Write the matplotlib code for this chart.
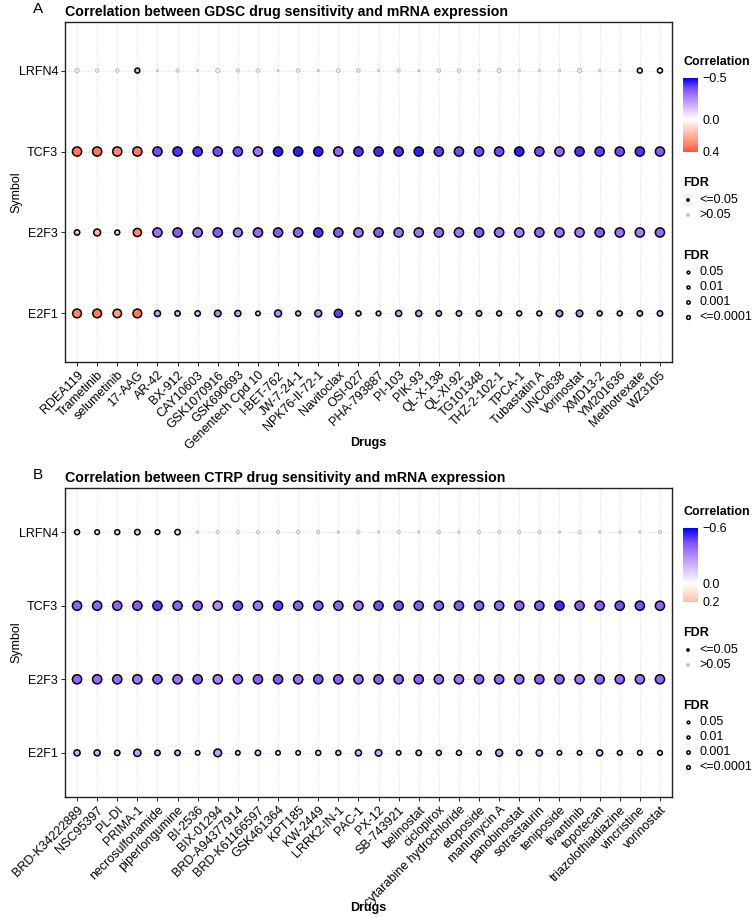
import numpy as np
import matplotlib
matplotlib.use("Agg")
import matplotlib.pyplot as plt
from matplotlib.colors import LinearSegmentedColormap, Normalize

plt.rcParams['font.family'] = ['Liberation Sans', 'DejaVu Sans']

genes = ["E2F1", "E2F3", "TCF3", "LRFN4"]

# ---- panel A : GDSC ----
gdsc_drugs = ["RDEA119", "Trametinib", "selumetinib", "17-AAG", "AR-42", "BX-912",
              "CAY10603", "GSK1070916", "GSK690693", "Genentech Cpd 10", "I-BET-762",
              "JW-7-24-1", "NPK76-II-72-1", "Navitoclax", "OSI-027", "PHA-793887",
              "PI-103", "PIK-93", "QL-X-138", "QL-XI-92", "TG101348", "THZ-2-102-1",
              "TPCA-1", "Tubastatin A", "UNC0638", "Vorinostat", "XMD13-2", "YM201636",
              "Methotrexate", "WZ3105"]
gdsc_e2f1_cor = [0.30, 0.33, 0.25, 0.33, -0.20, -0.15, -0.15, -0.25, -0.20, -0.10,
                 -0.25, -0.15, -0.25, -0.40, -0.12, -0.12, -0.20, -0.20, -0.18, -0.15,
                 -0.15, -0.12, -0.12, -0.12, -0.25, -0.25, -0.15, -0.12, -0.15, -0.15]
gdsc_e2f1_fdr = [2e-4, 2e-4, 3e-4, 2e-4, 0.01, 0.02, 0.02, 0.005, 0.01, 0.05,
                 0.003, 0.03, 0.003, 5e-4, 0.03, 0.04, 0.01, 0.01, 0.02, 0.02,
                 0.02, 0.03, 0.03, 0.03, 0.005, 0.005, 0.03, 0.03, 0.02, 0.02]
gdsc_e2f3_cor = [0.15, 0.20, 0.12, 0.30, -0.30, -0.35, -0.30, -0.35, -0.28, -0.32,
                 -0.35, -0.33, -0.42, -0.35, -0.30, -0.35, -0.30, -0.30, -0.32, -0.30,
                 -0.35, -0.30, -0.28, -0.32, -0.30, -0.28, -0.35, -0.30, -0.28, -0.32]
gdsc_e2f3_fdr = [0.02, 0.003, 0.03, 5e-4, 1e-5, 1e-5, 1e-5, 1e-5, 2e-4, 1e-5,
                 1e-5, 1e-5, 1e-5, 1e-5, 1e-5, 1e-5, 1e-5, 1e-5, 1e-5, 1e-5,
                 1e-5, 1e-5, 1e-5, 1e-5, 1e-5, 1e-5, 1e-5, 1e-5, 1e-5, 1e-5]
gdsc_tcf3_cor = [0.33, 0.33, 0.30, 0.33, -0.38, -0.42, -0.42, -0.38, -0.38, -0.30,
                 -0.45, -0.45, -0.45, -0.33, -0.42, -0.43, -0.42, -0.45, -0.40, -0.38,
                 -0.38, -0.38, -0.45, -0.38, -0.32, -0.42, -0.40, -0.38, -0.42, -0.35]
gdsc_tcf3_fdr = [1e-5] * 30
gdsc_lrfn4_cor = [0.05, 0.03, 0.04, -0.15, 0.02, 0.03, -0.02, 0.04, 0.05, -0.03,
                  0.02, 0.03, 0.01, 0.04, 0.05, -0.02, 0.03, 0.02, 0.04, 0.05,
                  0.02, -0.04, 0.02, 0.01, 0.03, 0.05, 0.02, 0.01, -0.05, -0.05]
gdsc_lrfn4_fdr = [0.1, 0.2, 0.2, 0.03, 0.9, 0.3, 0.8, 0.1, 0.3, 0.2,
                  0.8, 0.2, 0.8, 0.15, 0.2, 0.8, 0.3, 0.8, 0.2, 0.2,
                  0.6, 0.1, 0.7, 0.7, 0.6, 0.1, 0.7, 0.7, 0.03, 0.03]
gdsc_limits = [-0.5, 0.4]

# ---- panel B : CTRP ----
ctrp_drugs = ["BRD-K34222889", "NSC95397", "PL-DI", "PRIMA-1", "necrosulfonamide",
              "piperlongumine", "BI-2536", "BIX-01294", "BRD-A94377914", "BRD-K61166597",
              "GSK461364", "KPT185", "KW-2449", "LRRK2-IN-1", "PAC-1", "PX-12",
              "SB-743921", "belinostat", "ciclopirox", "cytarabine hydrochloride",
              "etoposide", "manumycin A", "panobinostat", "sotrastaurin", "teniposide",
              "tivantinib", "topotecan", "triazolothiadiazine", "vincristine", "vorinostat"]
ctrp_e2f1_cor = [-0.20, -0.20, -0.15, -0.25, -0.20, -0.18, -0.05, -0.25, -0.10, -0.15,
                 -0.05, -0.05, -0.10, -0.15, -0.20, -0.22, -0.05, -0.15, -0.10, -0.08,
                 -0.05, -0.25, -0.15, -0.20, -0.05, -0.05, -0.15, -0.08, -0.05, -0.08]
ctrp_e2f1_fdr = [0.01, 0.01, 0.02, 0.002, 0.02, 0.02, 0.05, 0.001, 0.05, 0.02,
                 0.05, 0.05, 0.03, 0.03, 0.01, 0.005, 0.05, 0.02, 0.03, 0.03,
                 0.05, 0.003, 0.02, 0.008, 0.05, 0.05, 0.01, 0.04, 0.04, 0.04]
ctrp_e2f3_cor = [-0.40, -0.38, -0.38, -0.35, -0.40, -0.36, -0.40, -0.33, -0.35, -0.40,
                 -0.42, -0.36, -0.42, -0.40, -0.35, -0.40, -0.38, -0.40, -0.35, -0.35,
                 -0.38, -0.38, -0.35, -0.40, -0.38, -0.35, -0.38, -0.38, -0.36, -0.40]
ctrp_e2f3_fdr = [1e-5] * 30
ctrp_tcf3_cor = [-0.40, -0.40, -0.40, -0.42, -0.48, -0.40, -0.42, -0.30, -0.45, -0.35,
                 -0.48, -0.40, -0.40, -0.40, -0.35, -0.45, -0.45, -0.42, -0.40, -0.42,
                 -0.40, -0.38, -0.40, -0.42, -0.52, -0.42, -0.42, -0.45, -0.45, -0.40]
ctrp_tcf3_fdr = [1e-5] * 30
ctrp_lrfn4_cor = [0.10, 0.05, 0.10, 0.15, 0.05, 0.10, 0.02, 0.01, 0.02, 0.01,
                  0.02, 0.01, 0.02, 0.01, 0.02, 0.01, 0.02, 0.01, 0.02, 0.01,
                  0.02, 0.01, 0.02, 0.01, 0.02, 0.01, 0.02, 0.01, 0.02, 0.01]
ctrp_lrfn4_fdr = [0.03, 0.04, 0.03, 0.02, 0.04, 0.02, 0.6, 0.3, 0.3, 0.3,
                  0.3, 0.3, 0.3, 0.8, 0.3, 0.8, 0.3, 0.8, 0.3, 0.8,
                  0.3, 0.3, 0.3, 0.3, 0.8, 0.3, 0.8, 0.8, 0.8, 0.3]
ctrp_limits = [-0.6, 0.2]

fdr_levels = ["0.05", "0.01", "0.001", "<=0.0001"]

W, H = 754, 917
# blue-white-red, interpolated like ggplot's gradient2 (Lab)
cmap = LinearSegmentedColormap.from_list(
    "cor", ["#0000FF", "#7E51FF", "#B48BFF", "#DCC4FF", "#FFFFFF",
            "#FFCFBE", "#FF9E81", "#FF6746", "#FF0000"])
GREY = "#BEBEBE"


def size_px(fdr):
    x = np.minimum(-np.log10(np.asarray(fdr)), 4)
    return np.interp(x, [0, 1.3, 2, 3, 4], [3.0, 6.0, 7.6, 9.2, 10.7])


def frac(x, y):
    return x / W, 1 - y / H


fig = plt.figure(figsize=(W / 100, H / 100), dpi=100)
ov = fig.add_axes([0, 0, 1, 1], zorder=5)
ov.set_xlim(0, W)
ov.set_ylim(H, 0)
ov.axis('off')
ov.patch.set_alpha(0)


def panel(top, bottom, drugs, cors, fdrs, limits, title, letter, dy, xlab_off):
    l, b = frac(65, bottom)
    r, t = frac(672, top)
    ax = fig.add_axes([l, b, r - l, t - b])
    m = max(abs(limits[0]), abs(limits[1]))
    norm = Normalize(-m, m)
    xs = np.arange(len(drugs))
    for gi, (c, f) in enumerate(zip(cors, fdrs)):
        c = np.array(c)
        f = np.array(f)
        sig = f <= 0.05
        d_pt = size_px(f) * 0.72
        lw = np.where(sig, 1.1, 0.8)
        s = np.maximum(d_pt - lw, 0.8) ** 2
        ax.scatter(xs, np.full(len(xs), gi), s=s, c=cmap(norm(c)),
                   edgecolors=np.where(sig, "black", GREY), linewidths=lw, zorder=3)
    ax.set_xlim(-0.6, len(drugs) - 0.4)
    ax.set_ylim(-0.6, len(genes) - 0.4)
    ax.set_xticks(xs)
    ax.set_xticklabels(drugs, rotation=45, ha='right', va='top', rotation_mode='anchor')
    ax.set_yticks(range(len(genes)))
    ax.set_yticklabels(genes)
    ax.tick_params(length=3, width=0.6, colors='black', labelsize=9, pad=2)
    ax.grid(True, linestyle=(0, (1, 2)), color='#D3D3D3', linewidth=0.6)
    ax.set_axisbelow(True)
    for sp in ax.spines.values():
        sp.set_linewidth(1.0)
        sp.set_color('#222222')

    ov.text(65, top - 6, title, fontsize=10.2, fontweight='bold', va='baseline', ha='left')
    ov.text(33, top - 9, letter, fontsize=11, va='baseline', ha='left')
    ov.text(16, (top + bottom) / 2, "Symbol", fontsize=9, rotation=90, va='center', ha='center')
    ov.text((65 + 672) / 2, bottom + xlab_off, "Drugs", fontsize=9, fontweight='bold',
            va='center', ha='center')

    # colour legend
    lo, hi = limits
    ov.text(683, 62 + dy, "Correlation", fontsize=9, fontweight='bold', va='center')
    cb_top, cb_bot = 78 + dy, 152 + dy
    cl, cb = frac(683, cb_bot)
    cr, ct = frac(698, cb_top)
    cax = fig.add_axes([cl, cb, cr - cl, ct - cb])
    grad = np.linspace(lo, hi, 256).reshape(-1, 1)
    cax.imshow(grad, aspect='auto', cmap=cmap, norm=norm, extent=[0, 1, lo, hi], origin='lower')
    cax.set_ylim(hi, lo)
    cax.set_xticks([])
    cax.yaxis.tick_right()
    cax.set_yticks([lo, 0, hi])
    cax.set_yticklabels([f"{v:.1f}".replace("-", "\u2212") for v in [lo, 0.0, hi]])
    cax.tick_params(length=0, labelsize=9, pad=3)
    for sp in cax.spines.values():
        sp.set_visible(False)

    # FDR colour legend
    ov.text(683, 183 + dy, "FDR", fontsize=9, fontweight='bold', va='center')
    ov.scatter([688, 688], [200 + dy, 215 + dy], s=[3.5, 3.5], c=["#222222", GREY],
               edgecolors=["black", GREY], linewidths=0.8)
    ov.text(699, 200 + dy, "<=0.05", fontsize=9, va='center')
    ov.text(699, 215 + dy, ">0.05", fontsize=9, va='center')

    # FDR size legend
    ov.text(683, 256 + dy, "FDR", fontsize=9, fontweight='bold', va='center')
    for i, lab in enumerate(fdr_levels):
        yy = 272 + dy + 15 * i
        d = (4.2 + 0.35 * i) * 0.72 - 1.1
        ov.scatter([688], [yy], s=d ** 2, c="white", edgecolors="black", linewidths=1.1)
        ov.text(699, yy, lab, fontsize=9, va='center')
    return ax


gdsc_cor = [gdsc_e2f1_cor, gdsc_e2f3_cor, gdsc_tcf3_cor, gdsc_lrfn4_cor]
gdsc_fdr = [gdsc_e2f1_fdr, gdsc_e2f3_fdr, gdsc_tcf3_fdr, gdsc_lrfn4_fdr]
ctrp_cor = [ctrp_e2f1_cor, ctrp_e2f3_cor, ctrp_tcf3_cor, ctrp_lrfn4_cor]
ctrp_fdr = [ctrp_e2f1_fdr, ctrp_e2f3_fdr, ctrp_tcf3_fdr, ctrp_lrfn4_fdr]

panel(22, 362, gdsc_drugs, gdsc_cor, gdsc_fdr, gdsc_limits,
      "Correlation between GDSC drug sensitivity and mRNA expression", "A", 0, 81)
panel(488, 797, ctrp_drugs, ctrp_cor, ctrp_fdr, ctrp_limits,
      "Correlation between CTRP drug sensitivity and mRNA expression", "B", 450, 111)

fig.savefig("out.png", dpi=100)
